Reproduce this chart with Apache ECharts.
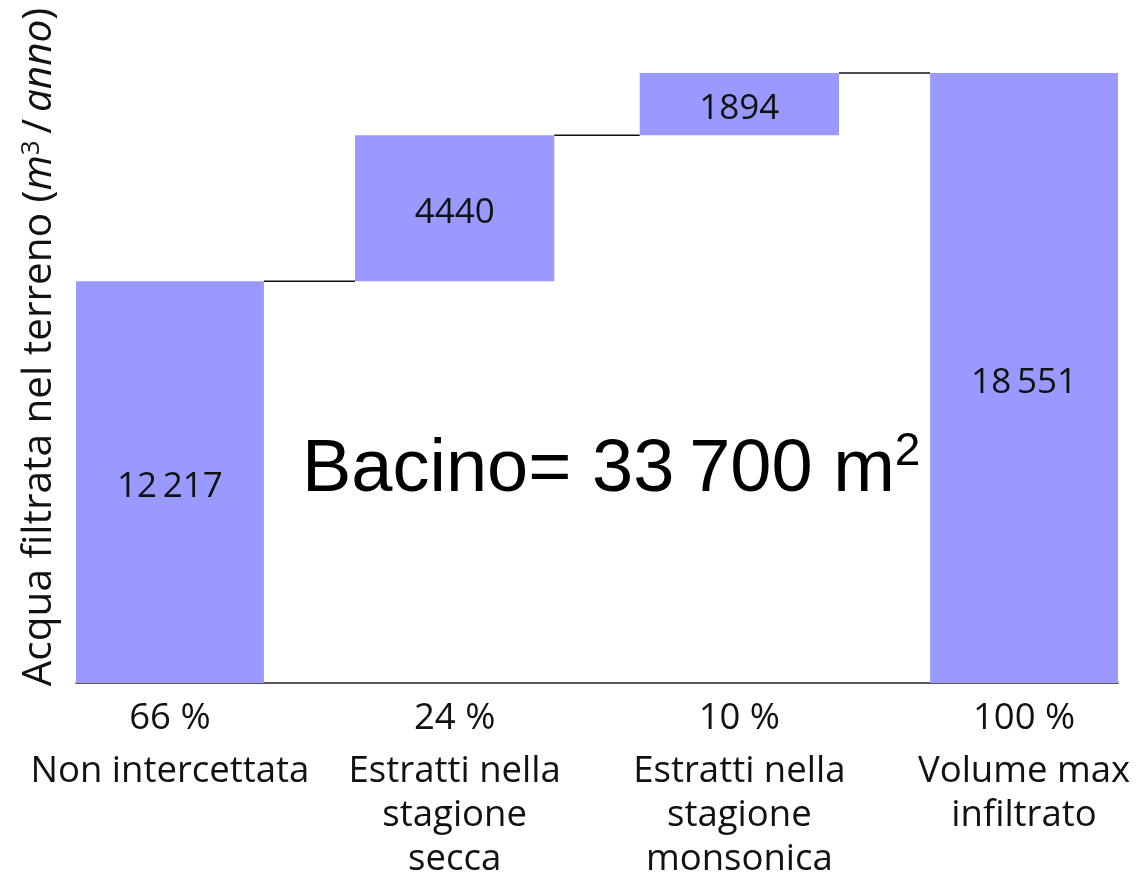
<!DOCTYPE html>
<html>
<head>
<meta charset="utf-8">
<script src="https://cdn.jsdelivr.net/npm/echarts@6/dist/echarts.min.js"></script>
<style>
  html, body { margin: 0; padding: 0; background: #ffffff; }
  #chart { width: 1144px; height: 872px; }
</style>
</head>
<body>
<div id="chart"></div>
<script>
// ---- data ----
const categories = ['Non intercettata', 'Estratti nella\nstagione\nsecca', 'Estratti nella\nstagione\nmonsonica', 'Volume max\ninfiltrato'];
const percentLabels = ['66 %', '24 %', '10 %', '100 %'];
const values = [12217, 4440, 1894, 18551];
const valueLabels = ['12\u2009217', '4440', '1894', '18\u2009551'];
const isTotal = [false, false, false, true];
const yTitle = 'Acqua filtrata nel terreno';
const annotation = ['Bacino= 33\u2009700 m', '2'];

// ---- styles ----
const BAR_COLOR = '#9999ff';
const BAR_FRACS = [0.66, 0.70, 0.70, 0.66];   // bar widths as fraction of category step
const FONT = '"Open Sans", "DejaVu Sans", sans-serif';

// waterfall rows built from the values
let running = 0;
const rows = values.map((v, i) => {
  let lo, hi;
  if (isTotal[i]) { lo = 0; hi = v; }
  else { lo = running; hi = running + v; running = hi; }
  return [i, lo, hi, valueLabels[i]];
});

function renderItem(params, api) {
  const i = api.value(0), lo = api.value(1), hi = api.value(2);
  const w = BAR_FRACS[i];
  const p0 = api.coord([i - w / 2, hi]);
  const p1 = api.coord([i + w / 2, lo]);
  const children = [{
    type: 'rect',
    shape: { x: p0[0], y: p0[1], width: p1[0] - p0[0], height: p1[1] - p0[1] },
    style: { fill: BAR_COLOR }
  }, {
    type: 'text',
    x: (p0[0] + p1[0]) / 2,
    y: (p0[1] + p1[1]) / 2 + 5,
    style: {
      text: rows[params.dataIndex][3],
      align: 'center', verticalAlign: 'middle',
      fontFamily: FONT, fontSize: 35, fill: '#111'
    },
    z2: 10
  }];
  if (i < rows.length - 1) {
    const a = api.coord([i + w / 2, hi]);
    const b = api.coord([i + 1 - BAR_FRACS[i + 1] / 2, hi]);
    children.push({
      type: 'line',
      shape: { x1: a[0], y1: a[1], x2: b[0], y2: b[1] },
      style: { stroke: '#111', lineWidth: 1.5 }
    });
  }
  return { type: 'group', children };
}

const chart = echarts.init(document.getElementById('chart'), null, { renderer: 'canvas' });
chart.setOption({
  backgroundColor: '#ffffff',
  animation: false,
  grid: { left: 76, right: 26, top: 73, bottom: 189, containLabel: false, outerBoundsMode: 'none' },
  xAxis: {
    type: 'value',
    min: -BAR_FRACS[0] / 2,
    max: categories.length - 1 + BAR_FRACS[BAR_FRACS.length - 1] / 2,
    splitLine: { show: false },
    axisTick: { show: false },
    axisLine: { show: true, onZero: false, lineStyle: { color: '#222', width: 1.6 } },
    axisLabel: {
      customValues: categories.map((c, i) => i),
      margin: 4,
      showMinLabel: true, showMaxLabel: true,
      formatter: function (v) {
        const i = Math.round(v);
        const lines = categories[i].split('\n').map(s => '{t|' + s + '}');
        return '{p|' + percentLabels[i] + '}\n' + lines.join('\n');
      },
      rich: {
        p: { fontFamily: FONT, fontSize: 36.5, lineHeight: 63, color: '#111' },
        t: { fontFamily: FONT, fontSize: 36.5, lineHeight: 44, color: '#111' }
      }
    }
  },
  yAxis: {
    type: 'value',
    min: 0,
    max: values[values.length - 1],
    axisLine: { show: false },
    axisTick: { show: false },
    axisLabel: { show: false },
    splitLine: { show: false },
    name: '{n|' + yTitle + ' (}{i|m}{s|3}{n|\u2009/\u2009}{i|anno}{n|)}',
    nameLocation: 'middle',
    nameRotate: 90,
    nameGap: 16,
    nameTextStyle: {
      padding: [0, 0, 0, 62],
      rich: {
        n: { fontFamily: FONT, fontSize: 40.5, color: '#111' },
        i: { fontFamily: FONT, fontSize: 40.5, fontStyle: 'italic', color: '#111' },
        s: { fontFamily: FONT, fontSize: 26, color: '#111', verticalAlign: 'top' }
      }
    }
  },
  graphic: [{
    type: 'text',
    left: 302,
    top: 429,
    style: {
      text: '{b|' + annotation[0] + '}{s|' + annotation[1] + '}',
      rich: {
        b: { fontFamily: '"Liberation Sans", Arial, sans-serif', fontSize: 74, lineHeight: 84, fill: '#000' },
        s: { fontFamily: '"Liberation Sans", Arial, sans-serif', fontSize: 46, fill: '#000', verticalAlign: 'top' }
      }
    }
  }],
  series: [{
    type: 'custom',
    renderItem: renderItem,
    encode: { x: 0, y: [1, 2] },
    data: rows
  }]
});
</script>
</body>
</html>
